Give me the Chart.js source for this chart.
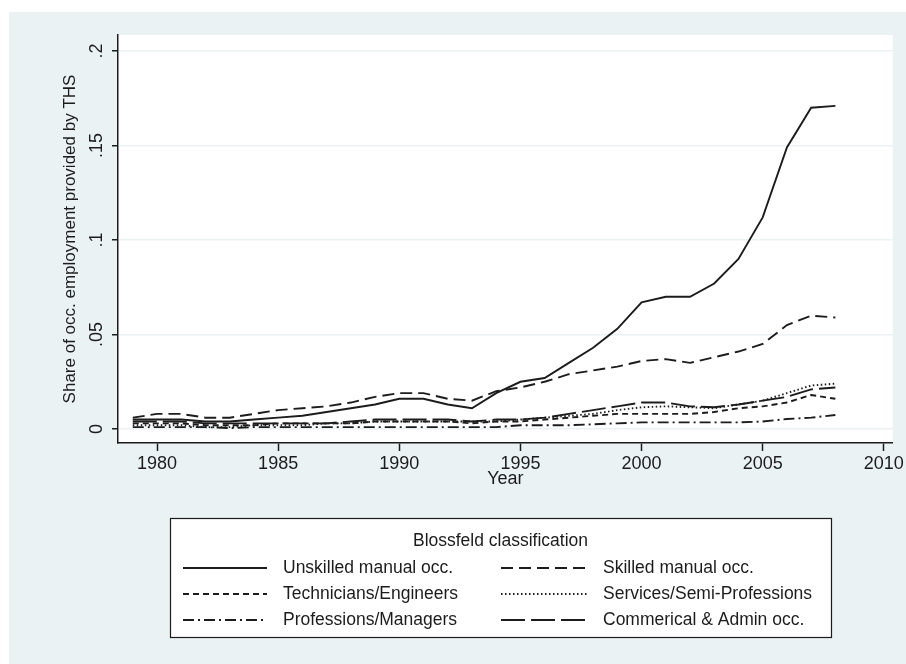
<!DOCTYPE html>
<html>
<head>
<meta charset="utf-8">
<script src="https://cdn.jsdelivr.net/npm/chart.js@4.4.1/dist/chart.umd.min.js"></script>
<style>
  html, body { margin: 0; padding: 0; background: #ffffff; }
  canvas { display: block; }
</style>
</head>
<body>
<canvas id="chart" width="906" height="664"></canvas>
<script>
// Share of occupational employment provided by temporary help services (THS)
const years = [1979,1980,1981,1982,1983,1984,1985,1986,1987,1988,1989,1990,1991,1992,1993,
               1994,1995,1996,1997,1998,1999,2000,2001,2002,2003,2004,2005,2006,2007,2008];

const unskilledManual = [0.005,0.005,0.005,0.004,0.004,0.005,0.006,0.007,0.009,0.011,0.013,0.016,0.016,0.013,0.011,
                         0.019,0.025,0.027,0.035,0.043,0.053,0.067,0.070,0.070,0.077,0.090,0.112,0.149,0.170,0.171];
const skilledManual   = [0.006,0.008,0.008,0.006,0.006,0.008,0.010,0.011,0.012,0.014,0.017,0.019,0.019,0.016,0.015,
                         0.020,0.022,0.025,0.029,0.031,0.033,0.036,0.037,0.035,0.038,0.041,0.045,0.055,0.060,0.059];
const technicians     = [0.003,0.003,0.003,0.002,0.002,0.002,0.003,0.003,0.003,0.003,0.004,0.004,0.004,0.004,0.003,
                         0.004,0.004,0.005,0.006,0.007,0.008,0.008,0.008,0.008,0.009,0.011,0.012,0.014,0.018,0.016];
const services        = [0.002,0.002,0.002,0.001,0.001,0.002,0.002,0.002,0.003,0.003,0.004,0.004,0.004,0.004,0.004,
                         0.004,0.005,0.006,0.007,0.008,0.010,0.0115,0.012,0.0115,0.011,0.013,0.015,0.019,0.023,0.024];
const professions     = [0.001,0.001,0.001,0.001,0.0005,0.001,0.001,0.001,0.001,0.001,0.001,0.001,0.001,0.001,0.001,
                         0.001,0.002,0.002,0.002,0.0025,0.003,0.0035,0.0035,0.0035,0.0035,0.0035,0.004,0.0053,0.006,0.0074];
const commercialAdmin = [0.004,0.004,0.004,0.003,0.003,0.003,0.003,0.003,0.003,0.004,0.005,0.005,0.005,0.005,0.004,
                         0.005,0.005,0.006,0.008,0.010,0.012,0.014,0.014,0.012,0.0115,0.013,0.015,0.017,0.021,0.022];

const seriesNames = ['Unskilled manual occ.', 'Skilled manual occ.', 'Technicians/Engineers',
                     'Services/Semi-Professions', 'Professions/Managers', 'Commerical & Admin occ.'];

const xTickYears  = [1980, 1985, 1990, 1995, 2000, 2005, 2010];
const yTickValues = [0, 0.05, 0.1, 0.15, 0.2];
const yTickLabels = ['0', '.05', '.1', '.15', '.2'];

const xTitle = 'Year';
const yTitle = 'Share of occ. employment provided by THS';
const legendTitle = 'Blossfeld classification';

// ---- styling ----
const INK = '#1c1c1c';
const PANEL = '#eaf2f3';
const FONT = '"Liberation Sans", Arial, sans-serif';
const LINE_W = 1.9;

const seriesValues = [unskilledManual, skilledManual, technicians, services, professions, commercialAdmin];
const dashes = [[], [12, 6], [6, 4], [1.5, 2.5], [11, 4, 2, 4], [24, 6]];

const datasets = seriesValues.map((vals, i) => ({
  label: seriesNames[i],
  data: years.map((yr, k) => ({ x: yr, y: vals[k] })),
  borderColor: INK,
  borderWidth: LINE_W,
  borderDash: dashes[i],
  pointRadius: 0,
  tension: 0,
  fill: false
}));

// Draws the panel backgrounds, rotated y tick labels and the boxed legend
const framePlugin = {
  id: 'frame',
  beforeDraw(chart) {
    const { ctx, chartArea: a } = chart;
    ctx.save();
    ctx.fillStyle = '#ffffff';
    ctx.fillRect(0, 0, chart.width, chart.height);
    ctx.fillStyle = PANEL;
    ctx.fillRect(9, 12, chart.width - 9, chart.height - 12);
    ctx.fillStyle = '#ffffff';
    ctx.fillRect(a.left, a.top, a.right - a.left, a.bottom - a.top);
    ctx.restore();
  },
  afterDraw(chart) {
    const { ctx } = chart;
    const ys = chart.scales.y;
    ctx.save();
    ctx.fillStyle = INK;
    ctx.font = '18px ' + FONT;
    ctx.textAlign = 'center';
    ctx.textBaseline = 'middle';
    ys.ticks.forEach(t => {
      const idx = yTickValues.indexOf(t.value);
      if (idx < 0) return;
      const py = ys.getPixelForValue(t.value);
      ctx.save();
      ctx.translate(ys.right - 21, py);
      ctx.rotate(-Math.PI / 2);
      ctx.fillText(yTickLabels[idx], 0, 0);
      ctx.restore();
    });

    // legend box
    const box = { x: 170, y: 518, w: 661, h: 119 };
    ctx.fillStyle = '#ffffff';
    ctx.fillRect(box.x, box.y, box.w, box.h);
    ctx.strokeStyle = INK;
    ctx.lineWidth = 1.2;
    ctx.setLineDash([]);
    ctx.strokeRect(box.x + 0.5, box.y + 0.5, box.w, box.h);

    ctx.fillStyle = INK;
    ctx.font = '17.5px ' + FONT;
    ctx.textAlign = 'center';
    ctx.fillText(legendTitle, box.x + box.w / 2, 541);

    const cols = [{ s0: 183, s1: 267, tx: 283 }, { s0: 501, s1: 588, tx: 603 }];
    const rows = [568, 594, 620];
    ctx.textAlign = 'left';
    chart.data.datasets.forEach((ds, i) => {
      const c = cols[i % 2], ry = rows[Math.floor(i / 2)];
      ctx.beginPath();
      ctx.setLineDash(ds.borderDash || []);
      ctx.lineWidth = LINE_W;
      ctx.strokeStyle = INK;
      ctx.moveTo(c.s0, ry);
      ctx.lineTo(c.s1, ry);
      ctx.stroke();
      ctx.setLineDash([]);
      ctx.fillText(ds.label, c.tx, ry);
    });
    ctx.restore();
  }
};

new Chart(document.getElementById('chart'), {
  type: 'line',
  data: { datasets },
  plugins: [framePlugin],
  options: {
    responsive: false,
    animation: false,
    events: [],
    layout: { padding: { top: 35, right: 13, left: 0, bottom: 0 } },
    plugins: { legend: { display: false }, tooltip: { enabled: false } },
    scales: {
      x: {
        type: 'linear',
        min: 1978.39,
        max: 2010.37,
        afterBuildTicks(s) { s.ticks = xTickYears.map(v => ({ value: v })); },
        afterFit(s) { s.height = 221; },
        grid: { drawOnChartArea: false, drawTicks: true, tickLength: 8, tickColor: INK, tickWidth: 1.5 },
        border: { display: true, color: INK, width: 1.5 },
        ticks: {
          color: INK,
          font: { family: FONT, size: 18 },
          padding: 2,
          maxRotation: 0,
          autoSkip: false,
          callback: v => String(v)
        },
        title: {
          display: true,
          text: xTitle,
          color: INK,
          font: { family: FONT, size: 18 },
          padding: { top: 0, bottom: 174 }
        }
      },
      y: {
        type: 'linear',
        min: -0.0074,
        max: 0.2085,
        afterBuildTicks(s) { s.ticks = yTickValues.map(v => ({ value: v })); },
        afterFit(s) { s.width = 118; },
        grid: { color: PANEL, lineWidth: 1.5, drawTicks: true, tickLength: 6, tickColor: INK, tickWidth: 1.5 },
        border: { display: true, color: INK, width: 1.5 },
        ticks: { display: false },
        title: {
          display: true,
          text: yTitle,
          color: INK,
          font: { family: FONT, size: 17 },
          padding: { top: 60, bottom: 0 }
        }
      }
    }
  }
});
</script>
</body>
</html>
